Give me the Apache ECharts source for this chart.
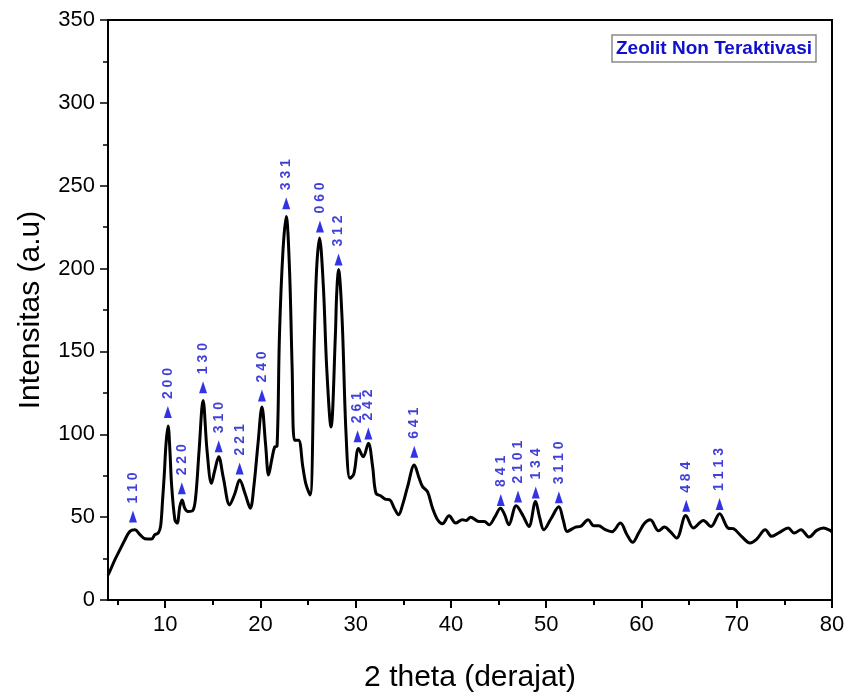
<!DOCTYPE html>
<html>
<head>
<meta charset="utf-8">
<script src="https://cdn.jsdelivr.net/npm/echarts@6/dist/echarts.min.js"></script>
<style>
html,body{margin:0;padding:0;background:#fff;}
#chart{width:848px;height:698px;}
</style>
</head>
<body>
<div id="chart"></div>
<script>
// 2 theta (degrees)
var theta = [4.0,4.2,4.73,5.26,5.78,6.3,6.83,7.35,7.87,8.57,8.92,9.27,9.52,9.73,9.9,10.1,10.31,10.5,10.67,11.02,11.26,11.54,11.78,12.06,12.41,12.9,13.2,13.56,13.98,14.4,14.86,15.2,15.62,16.1,16.77,17.3,17.82,18.4,18.94,19.3,19.74,20.16,20.54,20.86,21.2,21.5,21.75,22.0,22.36,22.71,23.05,23.33,23.58,24.0,24.45,24.8,25.22,25.67,25.9,26.2,26.6,26.96,27.41,27.87,28.0,28.2,28.57,28.99,29.4,29.8,30.3,30.8,31.33,31.78,32.13,32.65,33.1,33.6,34.05,34.5,34.92,35.45,36.15,36.67,37.02,37.54,38.07,38.6,39.1,39.8,40.5,41.2,41.6,42.07,42.94,43.5,44.0,44.6,45.2,45.6,46.08,46.85,47.55,48.18,48.88,49.3,49.75,50.5,51.32,51.8,52.2,53.07,53.6,54.4,55.0,55.5,56.2,56.9,57.78,58.48,59.08,59.7,60.34,60.92,61.8,62.4,63.0,63.7,64.65,65.45,66.5,67.3,68.2,69.1,69.65,70.5,71.4,72.1,73.0,73.66,74.5,75.4,76.04,76.74,77.58,78.4,79.1,79.8,80.0];
// Intensity (a.u)
var intensity = [15,17.4,24.4,30.4,36.4,41.4,42.4,39.4,37,36.8,39.4,40.4,44.4,60.4,75,95,105,90,70,48.4,46.4,56.4,60.4,55.4,53.4,54,62,90,120.4,90,70.4,78,86.4,74,57.4,64,72.4,64,55.4,68,94,116.4,94,75.4,85,92.4,93,160,210,231.4,200,140,96.4,96.4,80.4,69.4,63.4,160,200,218.4,190,140,104.4,160,184,199.4,170,100,73.4,76,91.4,86.4,94.6,80.4,64.4,62.8,60.8,60.4,55.4,51.4,57.4,68.4,81.4,73.4,68.4,65.4,55.4,48.4,46,50.8,46.4,48.4,48,50,47.4,47.4,45.4,50,55.4,52,45.4,56.8,51,44.4,59.4,50,42.4,49,56.2,48,41.4,44,44.4,48.4,44.8,44.8,42.4,41.2,46.4,39.4,34.8,40.4,46.4,48.4,41.8,44,41.4,37.4,51,43.4,48,44.4,52,43.4,43,38.4,34.4,36.8,42.4,38.4,40.8,43.4,40.4,42.4,38,42,43.4,42,41];

// Peak markers (Miller indices)
var peakLabels = ['1 1 0','2 0 0','2 2 0','1 3 0','3 1 0','2 2 1','2 4 0','3 3 1','0 6 0','3 1 2','2 6 1','2 4 2','6 4 1','8 4 1','2 1 0 1','1 3 4','3 1 1 0','4 8 4','1 1 1 3'];
var peakTheta  = [6.62,10.28,11.75,13.98,15.62,17.82,20.16,22.71,26.25,28.2,30.2,31.33,36.15,45.23,47.04,48.9,51.33,64.7,68.2];
var peakMarkY  = [50.4,113.4,67.4,128.4,92.8,79.4,123.4,239.4,225.4,205.4,98.8,100.4,89.4,60.4,62.4,64.8,62,56.8,58];

var xMajor = [10,20,30,40,50,60,70,80];
var xMinor = [5,15,25,35,45,55,65,75];

var FONT = 'Liberation Sans, Arial, Helvetica, sans-serif';

var lineData = theta.map(function(t,i){return [t,intensity[i]];});
var markData = peakTheta.map(function(t,i){return [t,peakMarkY[i]];});

var chart = echarts.init(document.getElementById('chart'), null, {renderer:'canvas'});
chart.setOption({
  animation:false,
  backgroundColor:'#fff',
  title:{
    text:'Zeolit Non Teraktivasi',
    left:612, top:35,
    padding:[4,4,4,4],
    borderColor:'#8a8a8a', borderWidth:1.5,
    backgroundColor:'#fff',
    textStyle:{fontFamily:FONT, fontSize:19, fontWeight:'bold', color:'#1010cc'}
  },
  grid:{left:108,right:16,top:20,bottom:94,show:true,borderColor:'#000',borderWidth:2,backgroundColor:'transparent'},
  xAxis:[{
    type:'value', min:4, max:80, position:'bottom',
    name:'2 theta (derajat)', nameLocation:'middle', nameGap:63,
    nameTextStyle:{fontFamily:FONT,fontSize:30,color:'#000'},
    axisLine:{show:true,onZero:false,lineStyle:{color:'#000',width:2}},
    axisTick:{show:true,customValues:xMajor,length:8,lineStyle:{color:'#000',width:2}},
    axisLabel:{customValues:xMajor,fontFamily:FONT,fontSize:22,color:'#000',margin:14},
    splitLine:{show:false}
  },{
    type:'value', min:4, max:80, position:'bottom',
    axisLine:{show:false},
    axisTick:{show:true,customValues:xMinor,length:5,lineStyle:{color:'#000',width:2}},
    axisLabel:{show:false},
    splitLine:{show:false}
  }],
  yAxis:{
    type:'value', min:0, max:350, interval:50,
    name:'Intensitas (a.u)', nameLocation:'middle', nameGap:62, nameRotate:90,
    nameTextStyle:{fontFamily:FONT,fontSize:30,color:'#000'},
    axisLine:{show:true,lineStyle:{color:'#000',width:2}},
    axisTick:{show:true,length:8,lineStyle:{color:'#000',width:1.5}},
    minorTick:{show:true,splitNumber:2,length:5,lineStyle:{color:'#000',width:1.5}},
    axisLabel:{fontFamily:FONT,fontSize:22,color:'#000',margin:13},
    splitLine:{show:false}
  },
  series:[{
    type:'line',
    data:lineData,
    xAxisIndex:0,
    smooth:0.35,
    showSymbol:false,
    lineStyle:{color:'#000',width:3},
    z:3
  },{
    type:'scatter',
    data:markData,
    xAxisIndex:0,
    symbol:'triangle',
    symbolSize:[8,12],
    itemStyle:{color:'#0000e0'},
    label:{
      show:true,
      formatter:function(p){return peakLabels[p.dataIndex];},
      position:'top', distance:7, rotate:90, align:'left', verticalAlign:'middle',
      fontFamily:FONT, fontSize:14, fontWeight:'bold', color:'#1010d0'
    },
    z:4
  }]
});
</script>
</body>
</html>
